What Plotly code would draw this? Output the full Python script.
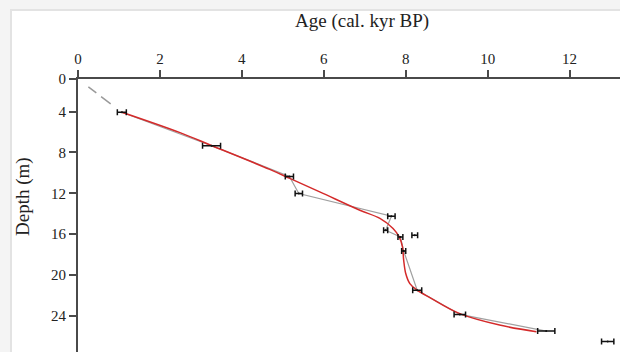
import plotly.graph_objects as go

# Dated samples (age in cal. kyr BP, depth in m, 1-sigma half-width in kyr)
sample_age = [1.07, 3.26, 5.16, 5.39, 7.65, 7.51, 7.87, 8.22, 7.95, 8.28, 9.32, 11.43, 12.93]
sample_depth = [4.06, 7.34, 10.35, 12.02, 14.25, 15.62, 16.28, 16.12, 17.66, 21.51, 23.88, 25.51, 26.54]
sample_err = [0.11, 0.22, 0.10, 0.09, 0.09, 0.05, 0.06, 0.07, 0.05, 0.11, 0.14, 0.21, 0.15]

# Linear interpolation through the accepted dates (outliers excluded)
interp_age = [1.07, 3.26, 5.16, 5.39, 7.65, 7.51, 7.87, 7.95, 8.28, 9.32, 11.43]
interp_depth = [4.06, 7.34, 10.35, 12.02, 14.25, 15.62, 16.28, 17.66, 21.51, 23.88, 25.51]

# Smoothed age-depth model (red curve)
model_age = [1.07, 2.49, 3.27, 4.68, 5.17, 5.90, 6.88, 7.37, 7.69, 7.84, 7.92, 7.95, 8.00, 8.10,
             8.26, 8.60, 9.32, 10.29, 11.19]
model_depth = [4.06, 6.06, 7.34, 9.66, 10.54, 11.86, 13.66, 14.47, 15.45, 16.28, 17.26, 18.57,
               19.87, 20.86, 21.45, 22.25, 23.80, 24.92, 25.57]

# Extrapolation to the surface
extrap_age = [0.0, 1.07]
extrap_depth = [0.8, 4.06]

x_tick_vals = [0, 2, 4, 6, 8, 10, 12]
y_tick_vals = [0.8, 4, 8, 12, 16, 20, 24]
y_tick_text = ["0", "4", "8", "12", "16", "20", "24"]

FONT = "Liberation Serif"
AXIS_COLOR = "#4a4a4a"

fig = go.Figure()

fig.add_trace(go.Scatter(x=extrap_age, y=extrap_depth, mode="lines",
                         line=dict(color="#9a9a9a", width=1.5, dash="0px,13px,10px,6px,12px,40px"),
                         hoverinfo="skip", showlegend=False))
fig.add_trace(go.Scatter(x=interp_age, y=interp_depth, mode="lines",
                         line=dict(color="#a0a0a0", width=1.2),
                         hoverinfo="skip", showlegend=False))
fig.add_trace(go.Scatter(x=model_age, y=model_depth, mode="lines",
                         line=dict(color="#d42a2a", width=1.5, shape="spline", smoothing=1.0),
                         hoverinfo="skip", showlegend=False))
fig.add_trace(go.Scatter(x=sample_age, y=sample_depth, mode="markers",
                         marker=dict(size=2, color="#111111"),
                         error_x=dict(type="data", array=sample_err, visible=True,
                                      color="#111111", thickness=1.5, width=3),
                         showlegend=False))

L, T = 78, 79
W, H = 620, 352
pw, ph = W - L, H - T

fig.add_shape(type="rect", xref="paper", yref="paper",
              x0=(11 - L) / pw, x1=1.2, y0=-0.2, y1=1 + (T - 10) / ph,
              fillcolor="white", line=dict(color="#e3e3e3", width=2), layer="below")

fig.add_annotation(text="Age (cal. kyr BP)", xref="paper", yref="paper",
                   x=(362 - L) / pw, y=1 + (T - 21) / ph, xanchor="center", yanchor="middle",
                   showarrow=False, font=dict(family=FONT, size=19, color="#222222"))
fig.add_annotation(text="Depth (m)", xref="paper", yref="paper",
                   x=(23 - L) / pw, y=1 - (197 - T) / ph, xanchor="center", yanchor="middle",
                   textangle=-90, showarrow=False,
                   font=dict(family=FONT, size=19, color="#222222"))

fig.update_layout(
    width=W, height=H,
    margin=dict(l=L, t=T, r=0, b=0, pad=0),
    paper_bgcolor="#f4f4f4", plot_bgcolor="white",
    font=dict(family=FONT, size=15, color="#222222"),
    xaxis=dict(side="top", range=[0, 13.23], tickvals=x_tick_vals,
               showline=True, linecolor=AXIS_COLOR, linewidth=1.8,
               ticks="outside", ticklen=7, tickwidth=1.5, tickcolor=AXIS_COLOR,
               showgrid=False, zeroline=False, tickfont=dict(family=FONT, size=15)),
    yaxis=dict(range=[27.56, 0.8], tickvals=y_tick_vals, ticktext=y_tick_text,
               showline=True, linecolor=AXIS_COLOR, linewidth=1.8,
               ticks="outside", ticklen=7, tickwidth=1.5, tickcolor=AXIS_COLOR,
               showgrid=False, zeroline=False, tickfont=dict(family=FONT, size=15)),
)

fig.write_html(
    "out.html",
    config={"displayModeBar": False},
    post_script="document.body.style.margin='0';document.body.style.overflow='hidden';"
                "document.body.style.background='#f4f4f4';",
)
